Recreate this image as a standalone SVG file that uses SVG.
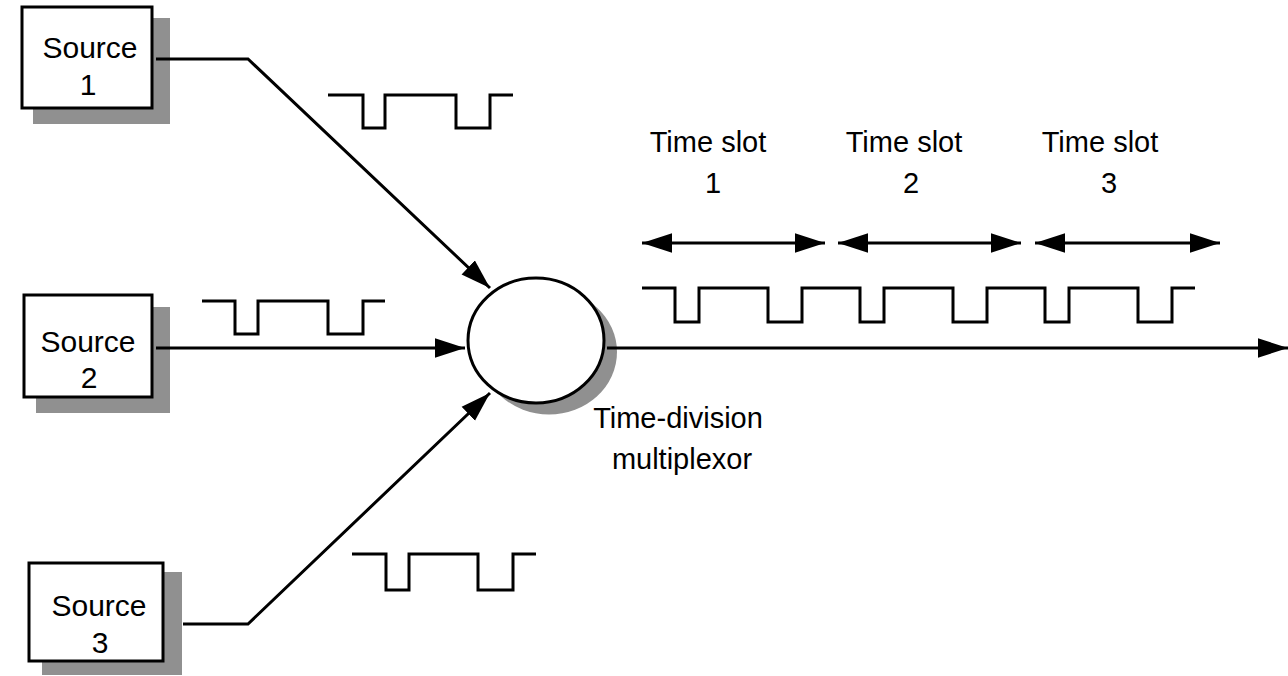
<svg xmlns="http://www.w3.org/2000/svg" width="1288" height="676" viewBox="0 0 1288 676">
<style>
.box{fill:#fff;stroke:#000;stroke-width:3}
.shadow{fill:#909090;stroke:none}
.txt{font-family:"Liberation Sans",Arial,sans-serif;font-size:29px;fill:#000;text-anchor:middle}
.src{font-size:30px}
.conn{fill:none;stroke:#000;stroke-width:3}
.pulse{fill:none;stroke:#000;stroke-width:3;stroke-linejoin:miter}
</style>
<defs>
<marker id="ah" markerUnits="userSpaceOnUse" markerWidth="30" markerHeight="20" viewBox="0 0 28 18" refX="28" refY="9" orient="auto-start-reverse">
<path d="M0,0 L28,9 L0,18 z" fill="#000"/>
</marker>
</defs>
<rect width="1288" height="676" fill="#fff"/>

<g id="source1">
<rect class="shadow" x="33" y="18" width="137" height="106"/>
<rect class="box" x="22" y="7" width="130" height="101"/>
<text class="txt src" x="90" y="58">Source</text>
<text class="txt src" x="88" y="95">1</text>
</g>
<g id="source2">
<rect class="shadow" x="36" y="307" width="134" height="106"/>
<rect class="box" x="24" y="295" width="128" height="102"/>
<text class="txt src" x="88" y="352">Source</text>
<text class="txt src" x="89" y="388">2</text>
</g>
<g id="source3">
<rect class="shadow" x="42" y="572" width="140" height="103"/>
<rect class="box" x="29" y="563" width="134" height="98"/>
<text class="txt src" x="99" y="616">Source</text>
<text class="txt src" x="100" y="653">3</text>
</g>

<g id="multiplexor">
<ellipse class="shadow" cx="549" cy="352" rx="68" ry="62.5"/>
<ellipse cx="536" cy="340.5" rx="68" ry="62.5" fill="#fff" stroke="#000" stroke-width="3"/>
<text class="txt" x="678" y="428">Time-division</text>
<text class="txt" x="682" y="469">multiplexor</text>
</g>

<g id="connectors">
<polyline class="conn" points="156,59 248,59 490,288" marker-end="url(#ah)"/>
<line class="conn" x1="156" y1="348" x2="465" y2="348" marker-end="url(#ah)"/>
<polyline class="conn" points="183,624 248,624 490,393" marker-end="url(#ah)"/>
<line class="conn" x1="607" y1="348" x2="1288" y2="348" marker-end="url(#ah)"/>
</g>

<g id="input-signals">
<polyline class="pulse" points="328,95 363,95 363,128 385,128 385,95 456,95 456,128 490,128 490,95 513,95"/>
<polyline class="pulse" points="202,301 235,301 235,334 258,334 258,301 328,301 328,334 363,334 363,301 385,301"/>
<polyline class="pulse" points="352,554 386,554 386,590 409,590 409,554 478,554 478,590 513,590 513,554 536,554"/>
</g>

<g id="time-slots">
<text class="txt" x="708" y="152">Time slot</text>
<text class="txt" x="713" y="193">1</text>
<text class="txt" x="904" y="152">Time slot</text>
<text class="txt" x="911" y="193">2</text>
<text class="txt" x="1100" y="152">Time slot</text>
<text class="txt" x="1109" y="193">3</text>
<line class="conn" x1="642" y1="243" x2="825" y2="243" marker-start="url(#ah)" marker-end="url(#ah)"/>
<line class="conn" x1="838" y1="243" x2="1021" y2="243" marker-start="url(#ah)" marker-end="url(#ah)"/>
<line class="conn" x1="1035" y1="243" x2="1220" y2="243" marker-start="url(#ah)" marker-end="url(#ah)"/>
</g>

<g id="output-signal">
<polyline class="pulse" points="642,288 675,288 675,322 699,322 699,288 768,288 768,322 802,322 802,288 827,288"/>
<polyline class="pulse" points="827,288 860,288 860,322 884,322 884,288 953,288 953,322 987,322 987,288 1012,288"/>
<polyline class="pulse" points="1012,288 1045,288 1045,322 1069,322 1069,288 1138,288 1138,322 1172,322 1172,288 1195,288"/>
</g>
</svg>
